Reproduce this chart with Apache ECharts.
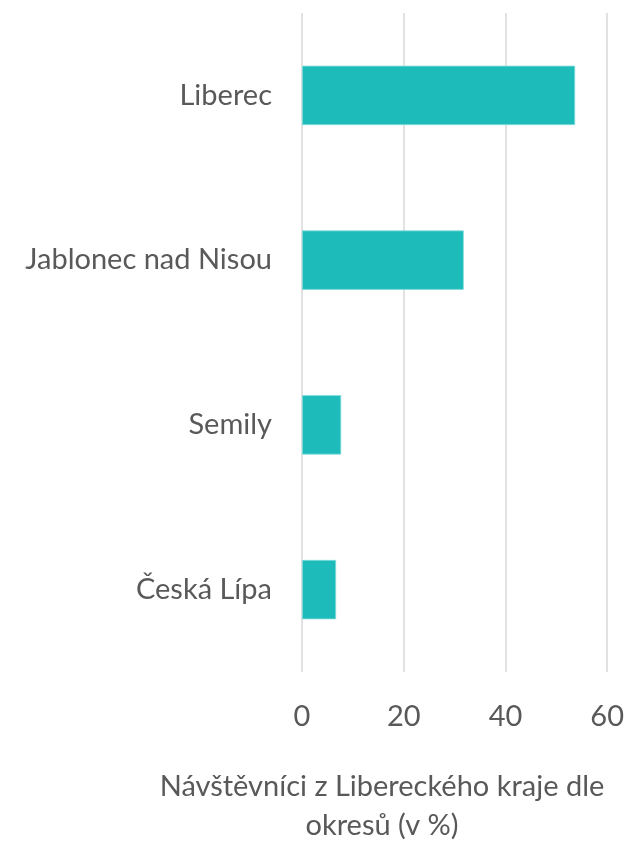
<!DOCTYPE html>
<html>
<head>
<meta charset="utf-8">
<script src="https://cdn.jsdelivr.net/npm/echarts@6/dist/echarts.min.js"></script>
<style>html,body{margin:0;padding:0;background:#fff}#c{width:627px;height:842px}</style>
</head>
<body>
<div id="c"></div>
<script>
const categories = ['Liberec', 'Jablonec nad Nisou', 'Semily', 'Česká Lípa'];
const values = [53.7, 31.8, 7.7, 6.7];
const xTicks = [0, 20, 40, 60];
const axisTitle = 'Návštěvníci z Libereckého kraje dle\nokresů (v %)';

const chart = echarts.init(document.getElementById('c'));
const font = 'Lato, "Open Sans", sans-serif';
chart.setOption({
  animation: false,
  backgroundColor: '#fff',
  grid: { left: 302, right: 18, top: 13, bottom: 170, containLabel: false },
  xAxis: {
    type: 'value', min: xTicks[0], max: xTicks[xTicks.length - 1], interval: 20,
    axisLine: { show: false }, axisTick: { show: false },
    splitLine: { lineStyle: { color: '#d9d9d9', width: 1.5 } },
    axisLabel: { color: '#595959', fontSize: 29, fontFamily: font, margin: 30 }
  },
  yAxis: {
    type: 'category', data: categories, inverse: true,
    axisLine: { show: false }, axisTick: { show: false },
    axisLabel: { color: '#595959', fontSize: 29, fontFamily: font, margin: 30 }
  },
  series: [{
    type: 'bar', data: values, barCategoryGap: '64%',
    itemStyle: { color: '#1dbbba', borderColor: '#7fdcdb', borderWidth: 0.8 }
  }],
  graphic: [{
    type: 'text', x: 382, y: 767,
    style: { text: axisTitle, fill: '#595959', font: '29px ' + font, textAlign: 'center', textVerticalAlign: 'top', lineHeight: 39 }
  }]
});
</script>
</body>
</html>
